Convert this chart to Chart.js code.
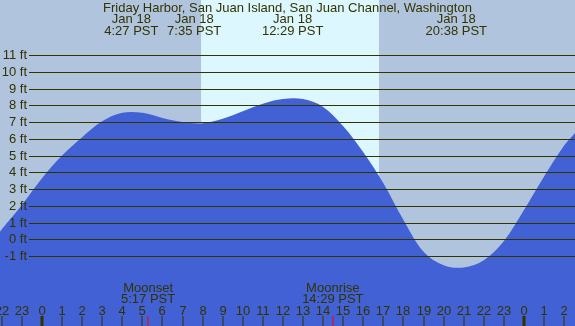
<!DOCTYPE html>
<html>
<head>
<meta charset="utf-8">
<script src="https://cdn.jsdelivr.net/npm/chart.js@4/dist/chart.umd.min.js"></script>
<style>
  html, body { margin: 0; padding: 0; background: #b0c4de; }
  #wrap { width: 575px; height: 326px; }
</style>
</head>
<body>
<div id="wrap"><canvas id="tide" width="575" height="326"></canvas></div>
<script>
// hours from local midnight Jan 18 (negative = Jan 17, >24 = Jan 19)
const hours = [-2.09, -2, -1, 0, 1, 2, 3, 4, 5, 6, 7, 8, 9, 10, 11, 12, 13,
  14, 15, 16, 17, 18, 19, 20, 21, 22, 23, 24, 25, 26, 26.54];
const heights = [0.45, 0.6, 2.05, 3.65, 5.0, 6.1, 7.05, 7.55, 7.55, 7.25, 7.0, 6.93, 7.2, 7.65, 8.1, 8.38, 8.37,
  7.9, 6.75, 5.2, 3.35, 1.15, -0.75, -1.55, -1.68, -1.25, -0.1, 1.75, 3.75, 5.6, 6.35];

const title = "Friday Harbor, San Juan Island, San Juan Channel, Washington";
const tideTimes = [4.45, 7.58, 12.48, 20.63];
const tideDates = ["Jan 18", "Jan 18", "Jan 18", "Jan 18"];
const tideLabels = ["4:27 PST", "7:35 PST", "12:29 PST", "20:38 PST"];
const moonTimes = [5.283, 14.483];
const moonNames = ["Moonset", "Moonrise"];
const moonLabels = ["5:17 PST", "14:29 PST"];
const sunrise = 7.92, sunset = 16.78;
const feetTicks = [-1, 0, 1, 2, 3, 4, 5, 6, 7, 8, 9, 10, 11];
const hourTicks = [-2, -1, 0, 1, 2, 3, 4, 5, 6, 7, 8, 9, 10, 11, 12, 13, 14, 15, 16, 17, 18, 19, 20, 21, 22, 23, 24, 25, 26];

const textColor = "#333300";
const font = "13px 'Liberation Sans', Arial, sans-serif";

const decor = {
  id: "decor",
  beforeDraw(chart) {
    const { ctx, scales: { x }, chartArea } = chart;
    ctx.save();
    ctx.fillStyle = "#b0c4de";
    ctx.fillRect(0, 0, chart.width, chart.height);
    ctx.fillStyle = "#ddf7fe";
    const x1 = x.getPixelForValue(sunrise);
    const x2 = x.getPixelForValue(sunset);
    ctx.fillRect(x1, chartArea.top, x2 - x1, chartArea.bottom - chartArea.top);
    ctx.restore();
  },
  afterDatasetsDraw(chart) {
    const { ctx, scales: { x, y } } = chart;
    ctx.save();
    ctx.font = font;
    ctx.fillStyle = textColor;
    ctx.strokeStyle = textColor;
    ctx.lineWidth = 1;

    // horizontal feet lines
    feetTicks.forEach((ft) => {
      const py = Math.round(y.getPixelForValue(ft)) + 0.5;
      ctx.beginPath();
      ctx.moveTo(29, py);
      ctx.lineTo(chart.width, py);
      ctx.stroke();
      ctx.textAlign = "right";
      ctx.textBaseline = "middle";
      ctx.fillText(ft + " ft", 27, py);
    });

    // title and tide events
    ctx.textAlign = "center";
    ctx.textBaseline = "middle";
    ctx.fillText(title, chart.width / 2, 8);
    tideTimes.forEach((t, i) => {
      const px = x.getPixelForValue(t);
      ctx.fillText(tideDates[i], px, 19.5);
      ctx.fillText(tideLabels[i], px, 31);
    });

    // moon events
    moonTimes.forEach((t, i) => {
      const px = x.getPixelForValue(t);
      ctx.fillText(moonNames[i], px, 288);
      ctx.fillText(moonLabels[i], px, 299.5);
    });

    // hour ticks
    hourTicks.forEach((h) => {
      const px = Math.round(x.getPixelForValue(h));
      const label = ((h % 24) + 24) % 24;
      ctx.fillText(String(label), px, 311);
      if (label === 0) {
        ctx.fillRect(px - 1.5, 316, 3, 10);
      } else {
        ctx.fillRect(px - 0.5, 316, 1, 10);
      }
    });
    ctx.fillStyle = "#ff0000";
    moonTimes.forEach((t) => {
      const px = Math.round(x.getPixelForValue(t));
      ctx.fillRect(px - 0.5, 316, 1, 10);
    });
    ctx.restore();
  },
};

new Chart(document.getElementById("tide"), {
  type: "line",
  data: {
    datasets: [
      {
        data: hours.map((h, i) => ({ x: h, y: heights[i] })),
        fill: "start",
        backgroundColor: "#4161d4",
        borderWidth: 0,
        pointRadius: 0,
        tension: 0.35,
      },
    ],
  },
  options: {
    responsive: false,
    animation: false,
    layout: { padding: 0 },
    scales: {
      x: { type: "linear", min: -2.09, max: 26.54, display: false },
      y: { type: "linear", min: -5.18, max: 14.29, display: false },
    },
    plugins: {
      legend: { display: false },
      tooltip: { enabled: false },
    },
  },
  plugins: [decor],
});
</script>
</body>
</html>
